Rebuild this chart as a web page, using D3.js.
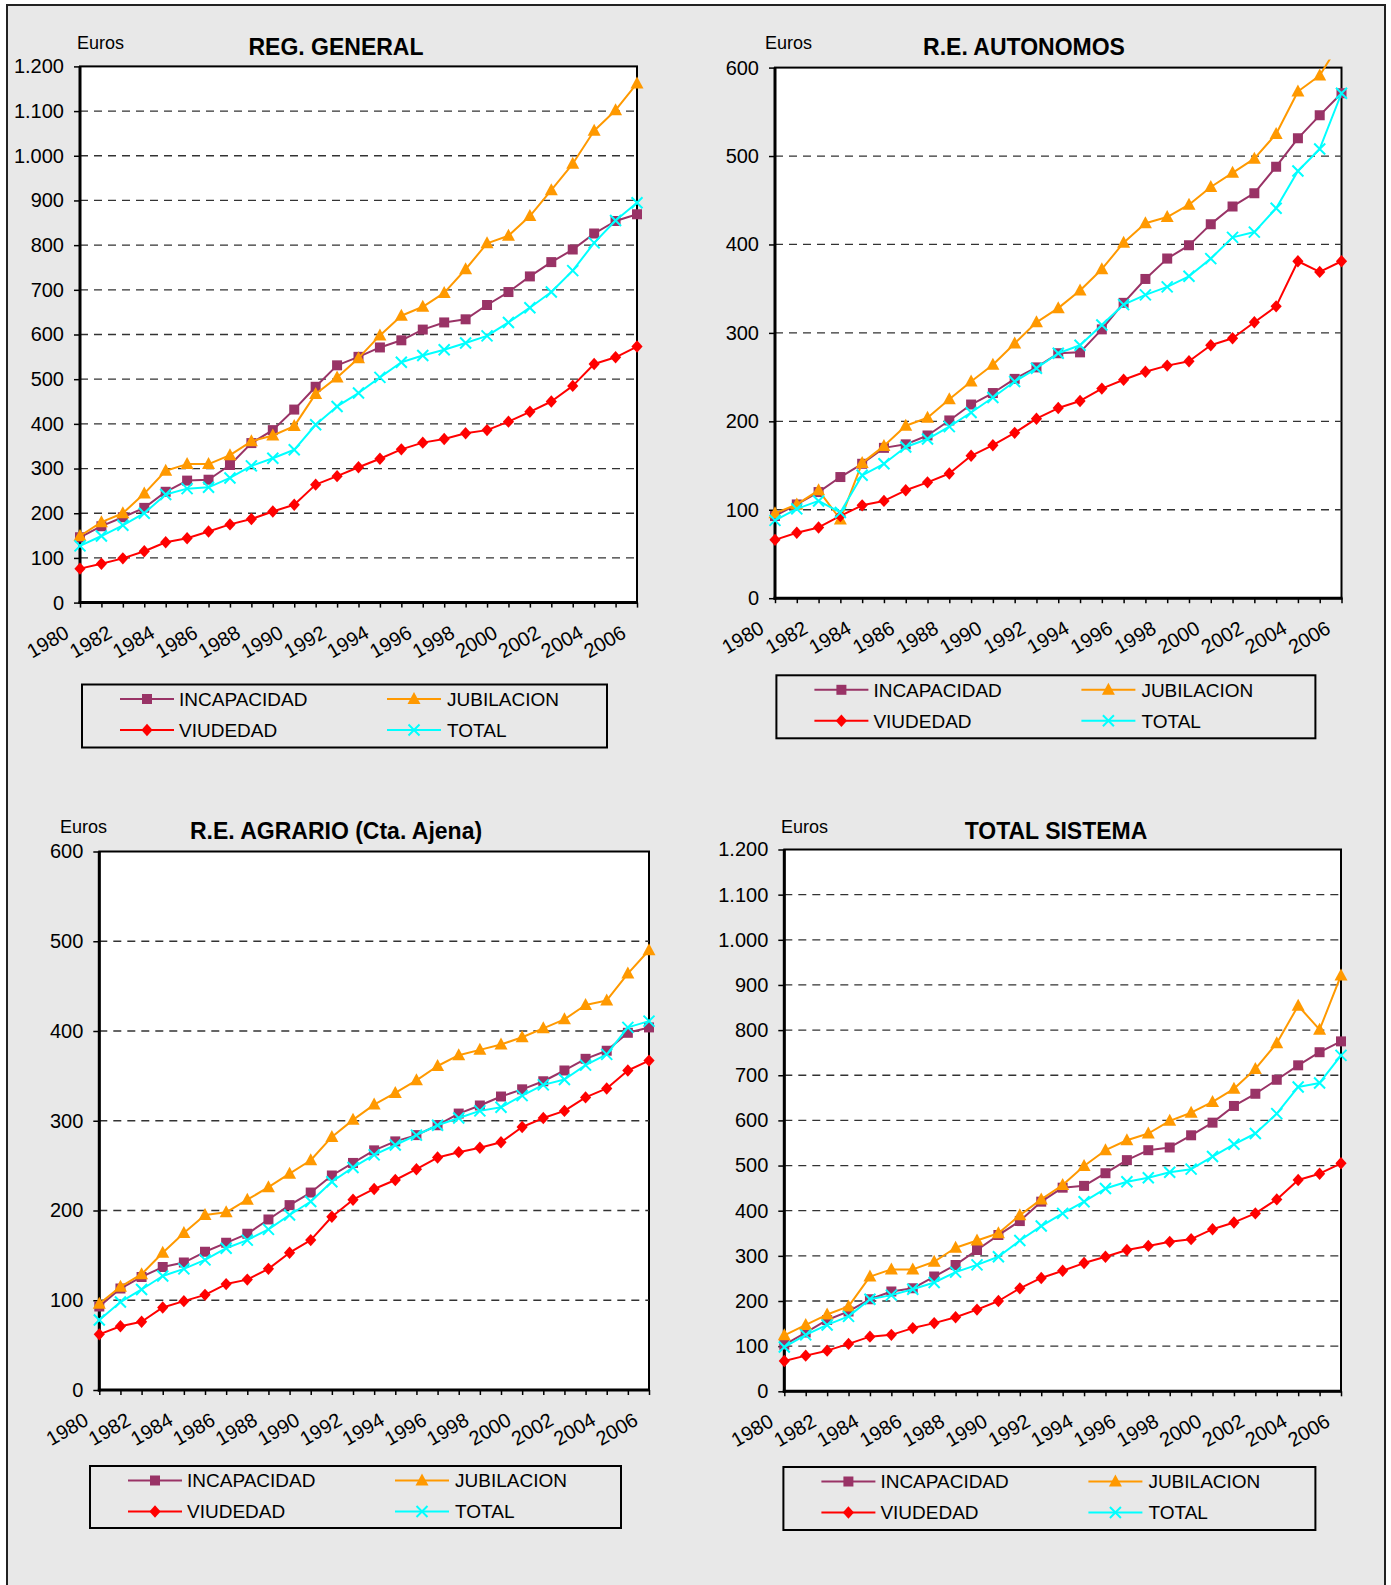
<!DOCTYPE html>
<html><head><meta charset="utf-8">
<script src="https://cdn.jsdelivr.net/npm/d3@7"></script>
<style>
body{margin:0;background:#fff;}
text{font-family:"Liberation Sans",Arial,Helvetica,sans-serif;}
</style>
</head><body>
<svg id="c" width="1391" height="1585"></svg>
<script>
// ---------- DATA ----------
const years = [1980,1981,1982,1983,1984,1985,1986,1987,1988,1989,1990,1991,1992,1993,
               1994,1995,1996,1997,1998,1999,2000,2001,2002,2003,2004,2005,2006];
const seriesNames = ["INCAPACIDAD","JUBILACION","VIUDEDAD","TOTAL"];
const xTickLabels = [1980,1982,1984,1986,1988,1990,1992,1994,1996,1998,2000,2002,2004,2006];
const yTicksLarge = [0,100,200,300,400,500,600,700,800,900,1000,1100,1200];
const yTicksSmall = [0,100,200,300,400,500,600];

// REG. GENERAL
const rgIncapacidad = [146,171,191,212,248,273,275,308,357,386,432,483,531,550,571,587,611,627,634,666,695,730,762,790,826,854,869];
const rgJubilacion  = [149,180,200,244,295,310,310,330,361,374,395,467,504,547,598,642,662,693,746,804,821,865,923,982,1056,1102,1162];
const rgViudedad    = [76,87,99,115,135,144,159,175,187,204,219,264,283,303,322,343,358,366,379,386,405,427,450,485,534,549,573];
const rgTotal       = [127,149,173,200,242,255,258,279,306,323,342,398,439,469,504,538,553,566,581,597,627,660,695,743,805,855,895];

// R.E. AUTONOMOS
const auIncapacidad = [93,106,120,137,152,170,174,184,201,219,232,248,261,277,278,304,334,361,384,399,423,443,458,488,520,546,571];
const auJubilacion  = [96,106,122,89,153,172,195,204,225,245,264,288,312,328,348,372,402,424,431,445,465,481,497,525,573,591,631];
const auViudedad    = [66,74,80,93,105,110,122,131,141,161,173,187,203,215,223,237,247,256,263,268,286,294,312,330,381,369,381];
const auTotal       = [88,101,110,97,139,152,171,180,194,210,227,245,260,277,286,309,332,343,352,364,384,408,414,441,483,508,571];

// R.E. AGRARIO (Cta. Ajena)
const agIncapacidad = [93,113,126,137,142,154,164,174,190,206,220,239,253,267,277,284,295,308,317,327,335,344,356,369,378,398,404];
const agJubilacion  = [96,115,129,153,175,195,198,212,226,241,256,282,301,318,331,345,361,373,379,385,393,403,413,429,434,464,490];
const agViudedad    = [62,71,76,92,99,106,118,123,135,153,167,193,212,224,234,246,259,265,270,276,293,303,311,326,336,356,367];
const agTotal       = [78,98,112,127,135,145,158,167,179,195,210,232,248,262,273,284,295,303,311,315,328,340,346,362,374,404,411];

// TOTAL SISTEMA
const tsIncapacidad = [103,130,158,177,204,221,228,254,280,313,346,377,420,451,455,483,512,534,540,567,595,632,659,690,722,751,775];
const tsJubilacion  = [124,147,170,188,254,270,270,287,318,334,350,390,425,457,499,534,556,571,599,617,641,670,714,771,854,801,921];
const tsViudedad    = [67,79,90,105,121,125,140,151,164,181,200,228,251,267,284,298,313,322,331,337,359,374,394,425,468,482,505];
const tsTotal       = [98,125,147,166,204,213,226,241,264,280,298,334,366,394,420,449,464,473,485,492,520,547,571,615,674,683,744];

// ---------- LAYOUT / STYLE ----------
const colors = {INCAPACIDAD:"#993366", JUBILACION:"#FF9900", VIUDEDAD:"#FF0000", TOTAL:"#00FFFF"};

const panels = [
  {title:"REG. GENERAL", titleX:336, titleY:54.5, eurosX:77, eurosY:49, yTicks:yTicksLarge,
   plot:{l:80,r:637,t:66.4,b:602.6}, legend:{x:82,y:684.5,w:525,h:63},
   data:[rgIncapacidad,rgJubilacion,rgViudedad,rgTotal]},
  {title:"R.E. AUTONOMOS", titleX:1024, titleY:54.5, eurosX:765, eurosY:49, yTicks:yTicksSmall,
   plot:{l:775,r:1341.5,t:67.6,b:598.2}, legend:{x:776.4,y:675.3,w:539,h:63},
   data:[auIncapacidad,auJubilacion,auViudedad,auTotal]},
  {title:"R.E. AGRARIO (Cta. Ajena)", titleX:336, titleY:838.5, eurosX:60, eurosY:833, yTicks:yTicksSmall,
   plot:{l:99.3,r:649,t:851.5,b:1390}, legend:{x:90,y:1466,w:531,h:62},
   data:[agIncapacidad,agJubilacion,agViudedad,agTotal]},
  {title:"TOTAL SISTEMA", titleX:1056, titleY:838.5, eurosX:781, eurosY:833, yTicks:yTicksLarge,
   plot:{l:784.3,r:1341,t:849.5,b:1391.3}, legend:{x:783.4,y:1467,w:532,h:63},
   data:[tsIncapacidad,tsJubilacion,tsViudedad,tsTotal]}
];

const locale = d3.formatLocale({decimal:",", thousands:".", grouping:[3], currency:["","€"]});
const fmt = locale.format(",d");

const markerPaths = {
  INCAPACIDAD:"M-5,-5H5V5H-5Z",
  JUBILACION:"M0,-7L6.5,5L-6.5,5Z",
  VIUDEDAD:"M0,-6.2L5.6,0L0,6.2L-5.6,0Z",
  TOTAL:"M-5.5,-5.5L5.5,5.5M-5.5,5.5L5.5,-5.5"
};

const svg = d3.select("#c");

// background frame
svg.append("rect").attr("x",7).attr("y",5).attr("width",1378).attr("height",1600)
  .attr("fill","#e8e8e8").attr("stroke","#222").attr("stroke-width",2);

function drawMarker(g, name, x, y){
  const p = g.append("path").attr("d", markerPaths[name])
    .attr("transform", `translate(${x},${y})`);
  if(name==="TOTAL"){
    p.attr("fill","none").attr("stroke",colors[name]).attr("stroke-width",2);
  } else {
    p.attr("fill",colors[name]).attr("stroke","none");
  }
}

panels.forEach((P, pi) => {
  const {l,r,t,b} = P.plot;
  const yMax = d3.max(P.yTicks);
  const x = d3.scalePoint().domain(years).range([l, r]);
  const y = d3.scaleLinear().domain([0, yMax]).range([b, t]);
  const g = svg.append("g");

  // plot area
  g.append("rect").attr("x",l).attr("y",t).attr("width",r-l).attr("height",b-t)
    .attr("fill","#fff").attr("stroke","#000").attr("stroke-width",2);

  // gridlines
  g.append("g").selectAll("line").data(P.yTicks.filter(v => v>0 && v<yMax)).join("line")
    .attr("x1",l).attr("x2",r).attr("y1",d=>y(d)).attr("y2",d=>y(d))
    .attr("stroke","#333").attr("stroke-width",1.3).attr("stroke-dasharray","8,6");

  // y axis
  const yAxis = d3.axisLeft(y).tickValues(P.yTicks).tickFormat(fmt).tickSize(6).tickPadding(10);
  const ya = g.append("g").attr("transform",`translate(${l},0)`).call(yAxis);
  ya.select(".domain").remove();
  ya.selectAll(".tick line").attr("stroke","#000").attr("stroke-width",1.5);
  ya.selectAll(".tick text").attr("font-size",20).attr("fill","#000")
    .attr("font-family","'Liberation Sans',Arial,sans-serif");

  // x axis
  const xAxis = d3.axisBottom(x).tickSize(5).tickFormat(d => xTickLabels.includes(d) ? d : "");
  const xa = g.append("g").attr("transform",`translate(0,${b})`).call(xAxis);
  xa.select(".domain").remove();
  xa.selectAll(".tick line").attr("stroke","#000").attr("stroke-width",1.5);
  xa.selectAll(".tick text").attr("font-size",20).attr("fill","#000")
    .attr("font-family","'Liberation Sans',Arial,sans-serif")
    .attr("text-anchor","end").attr("y",0).attr("dy",0)
    .attr("transform","translate(-10,34) rotate(-30)");

  // thick axis lines
  g.append("line").attr("x1",l).attr("x2",l).attr("y1",t).attr("y2",b+1.5)
    .attr("stroke","#000").attr("stroke-width",3);
  g.append("line").attr("x1",l-1.5).attr("x2",r+1).attr("y1",b).attr("y2",b)
    .attr("stroke","#000").attr("stroke-width",3);

  // clip
  const cid = "clip"+pi;
  svg.append("clipPath").attr("id",cid).append("rect")
    .attr("x",l-12).attr("y",t-8).attr("width",r-l+24).attr("height",b-t+20);
  const sg = g.append("g").attr("clip-path",`url(#${cid})`);

  seriesNames.forEach((name, si) => {
    const vals = P.data[si];
    const line = d3.line().x((d,i)=>x(years[i])).y(d=>y(d));
    sg.append("path").datum(vals).attr("d",line).attr("fill","none")
      .attr("stroke",colors[name]).attr("stroke-width",2).attr("stroke-linejoin","round");
    vals.forEach((v,i) => drawMarker(sg, name, x(years[i]), y(v)));
  });

  // titles
  g.append("text").attr("x",P.titleX).attr("y",P.titleY).attr("text-anchor","middle")
    .attr("font-size",23).attr("font-weight","bold").attr("fill","#000").text(P.title);
  g.append("text").attr("x",P.eurosX).attr("y",P.eurosY).attr("font-size",18)
    .attr("fill","#000").text("Euros");

  // legend
  const L = P.legend;
  const lg = g.append("g").attr("transform",`translate(${L.x},${L.y})`);
  lg.append("rect").attr("width",L.w).attr("height",L.h).attr("fill","none")
    .attr("stroke","#000").attr("stroke-width",2);
  const pos = [
    {lx:38, tx:97, ry:14.5}, {lx:305, tx:365, ry:14.5},
    {lx:38, tx:97, ry:45.5}, {lx:305, tx:365, ry:45.5}
  ];
  seriesNames.forEach((name, si) => {
    const q = pos[si];
    lg.append("line").attr("x1",q.lx).attr("x2",q.lx+54).attr("y1",q.ry).attr("y2",q.ry)
      .attr("stroke",colors[name]).attr("stroke-width",2);
    drawMarker(lg, name, q.lx+27, q.ry);
    lg.append("text").attr("x",q.tx).attr("y",q.ry).attr("dy","0.36em")
      .attr("font-size",19).attr("fill","#000").text(name);
  });
});
</script>
</body></html>
